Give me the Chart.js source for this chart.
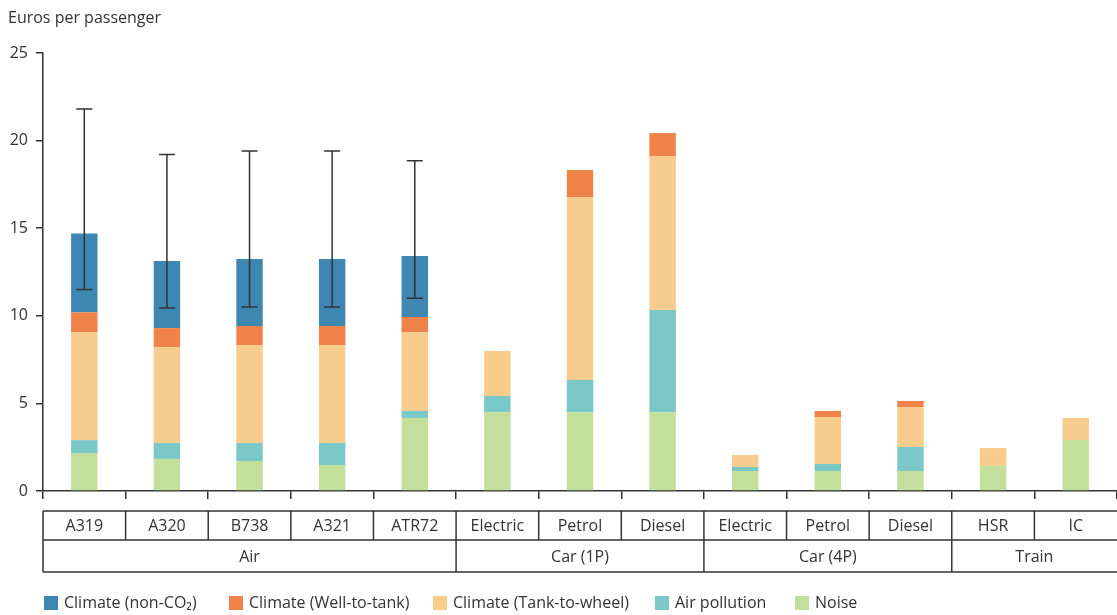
<!DOCTYPE html>
<html>
<head>
<meta charset="utf-8">
<script src="https://cdn.jsdelivr.net/npm/chart.js@4"></script>
<style>
  html, body { margin: 0; padding: 0; background: #fff; }
</style>
</head>
<body>
<canvas id="myChart" width="1117" height="615"></canvas>
<script>
var categories = ['A319', 'A320', 'B738', 'A321', 'ATR72', 'Electric', 'Petrol', 'Diesel', 'Electric', 'Petrol', 'Diesel', 'HSR', 'IC'];
var groups = ['Air', 'Car (1P)', 'Car (4P)', 'Train'];
var groupSizes = [5, 3, 3, 2];

var noise        = [2.15, 1.83, 1.71, 1.48, 4.17, 4.50, 4.50, 4.50, 1.14, 1.14, 1.14, 1.43, 2.91];
var airPollution = [0.75, 0.91, 1.03, 1.26, 0.40, 0.92, 1.84, 5.83, 0.23, 0.40, 1.37, 0, 0];
var tankToWheel  = [6.15, 5.48, 5.59, 5.59, 4.50, 2.57, 10.44, 8.77, 0.68, 2.68, 2.28, 1.02, 1.26];
var wellToTank   = [1.15, 1.08, 1.09, 1.09, 0.86, 0, 1.54, 1.33, 0, 0.35, 0.35, 0, 0];
var nonCO2       = [4.50, 3.83, 3.82, 3.82, 3.48, 0, 0, 0, 0, 0, 0, 0, 0];

var errLow  = [11.5, 10.45, 10.5, 10.5, 11.0, null, null, null, null, null, null, null, null];
var errHigh = [21.8, 19.2, 19.4, 19.4, 18.85, null, null, null, null, null, null, null, null];

var yTicks = [0, 5, 10, 15, 20, 25];

var FONT = '"Open Sans", sans-serif';
var INK = '#333333';

var legendItems = [
    { text: 'Climate (non-CO\u2082)', color: '#3f87b3', x: 44 },
    { text: 'Climate (Well-to-tank)', color: '#ef834a', x: 229 },
    { text: 'Climate (Tank-to-wheel)', color: '#f8cc8c', x: 433 },
    { text: 'Air pollution', color: '#7bc8c9', x: 655 },
    { text: 'Noise', color: '#c4df9b', x: 795 }
];

// error bars, table under the axis, axis title and legend
var extras = {
    id: 'extras',
    afterDatasetsDraw: function (chart) {
        var c = chart.ctx, xs = chart.scales.x, ys = chart.scales.y;
        c.save();
        c.strokeStyle = INK;
        c.lineWidth = 1.5;
        for (var i = 0; i < categories.length; i++) {
            if (errLow[i] == null) continue;
            var x = xs.getPixelForValue(i);
            var y1 = ys.getPixelForValue(errLow[i]);
            var y2 = ys.getPixelForValue(errHigh[i]);
            c.beginPath();
            c.moveTo(x, y1); c.lineTo(x, y2);
            c.moveTo(x - 8, y1); c.lineTo(x + 8, y1);
            c.moveTo(x - 8, y2); c.lineTo(x + 8, y2);
            c.stroke();
        }
        c.restore();
    },
    afterDraw: function (chart) {
        var c = chart.ctx, xs = chart.scales.x;
        var w = (xs.right - xs.left) / categories.length;
        var top = 511, mid = 540, bot = 572;
        c.save();
        c.strokeStyle = INK;
        c.lineWidth = 1.5;
        c.fillStyle = INK;
        c.font = '16px ' + FONT;
        c.textAlign = 'center';
        c.textBaseline = 'middle';
        c.beginPath();
        c.moveTo(xs.left, top); c.lineTo(xs.right, top);
        c.moveTo(xs.left, mid); c.lineTo(xs.right, mid);
        c.moveTo(xs.left, bot); c.lineTo(xs.right, bot);
        c.stroke();
        for (var i = 0; i < categories.length; i++) {
            var l = xs.getPixelForValue(i) - w / 2;
            c.beginPath(); c.moveTo(l, top); c.lineTo(l, mid); c.stroke();
            c.fillText(categories[i], l + w / 2, (top + mid) / 2 + 1);
        }
        var start = 0;
        for (var g = 0; g < groups.length; g++) {
            var gl = xs.left + start * w;
            var gr = gl + groupSizes[g] * w;
            c.beginPath(); c.moveTo(gl, mid); c.lineTo(gl, bot); c.stroke();
            c.fillText(groups[g], (gl + gr) / 2, (mid + bot) / 2 + 1);
            start += groupSizes[g];
        }
        // axis title
        c.textAlign = 'left';
        c.fillText('Euros per passenger', 8, 18);
        // legend
        for (var k = 0; k < legendItems.length; k++) {
            var it = legendItems[k];
            c.fillStyle = it.color;
            c.fillRect(it.x, 596, 14, 14);
            c.fillStyle = INK;
            c.fillText(it.text, it.x + 20, 603);
        }
        c.restore();
    }
};

function ds(label, data, color) {
    return {
        label: label,
        data: data,
        backgroundColor: color,
        borderWidth: 0,
        barPercentage: 0.32,
        categoryPercentage: 1.0
    };
}

var ctx = document.getElementById('myChart').getContext('2d');
var myChart = new Chart(ctx, {
    type: 'bar',
    data: {
        labels: categories,
        datasets: [
            ds('Noise', noise, '#c4df9b'),
            ds('Air pollution', airPollution, '#7bc8c9'),
            ds('Climate (Tank-to-wheel)', tankToWheel, '#f8cc8c'),
            ds('Climate (Well-to-tank)', wellToTank, '#ef834a'),
            ds('Climate (non-CO\u2082)', nonCO2, '#3f87b3')
        ]
    },
    options: {
        responsive: false,
        animation: false,
        layout: {
            padding: { left: 0, right: 0, top: 53, bottom: 0 }
        },
        plugins: {
            legend: { display: false },
            tooltip: { enabled: false }
        },
        scales: {
            x: {
                stacked: true,
                ticks: { display: false },
                grid: { drawOnChartArea: false, tickLength: 8, color: INK, lineWidth: 1.5 },
                border: { color: INK, width: 1.5 },
                afterFit: function (s) { s.height = 124; }
            },
            y: {
                stacked: true,
                min: 0,
                max: 25,
                afterBuildTicks: function (s) {
                    s.ticks = yTicks.map(function (v) { return { value: v }; });
                },
                ticks: { color: INK, font: { family: FONT, size: 16 }, padding: 8 },
                grid: { drawOnChartArea: false, tickLength: 7, color: INK, lineWidth: 1.5 },
                border: { color: INK, width: 1.5 },
                afterFit: function (s) { s.width = 43; }
            }
        }
    },
    plugins: [extras]
});
</script>
</body>
</html>
